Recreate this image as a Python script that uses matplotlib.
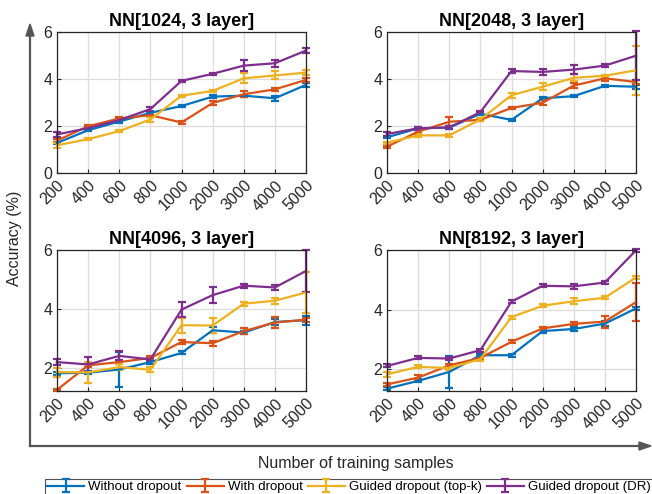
import numpy as np
import matplotlib
matplotlib.use("Agg")
import matplotlib.pyplot as plt
from matplotlib.lines import Line2D

plt.rcParams['font.family'] = ['Liberation Sans', 'DejaVu Sans']

# 数据
samples = ["200", "400", "600", "800", "1000", "2000", "3000", "4000", "5000"]
methods = ["Without dropout", "With dropout", "Guided dropout (top-k)", "Guided dropout (DR)"]
colors = ["#0072BD", "#D95319", "#EDB120", "#7E2F8E"]
titles = ["NN[1024, 3 layer]", "NN[2048, 3 layer]", "NN[4096, 3 layer]", "NN[8192, 3 layer]"]
ylims = [(0, 6), (0, 6), (1.22, 6), (1.27, 6)]

# NN[1024]
acc_1024 = [
    [1.28, 1.82, 2.19, 2.56, 2.85, 3.25, 3.29, 3.18, 3.75],
    [1.38, 1.99, 2.32, 2.46, 2.15, 2.98, 3.35, 3.56, 3.96],
    [1.18, 1.44, 1.78, 2.28, 3.29, 3.49, 4.03, 4.15, 4.27],
    [1.64, 1.91, 2.25, 2.72, 3.92, 4.22, 4.57, 4.67, 5.21],
]
err_1024 = [
    [0.05, 0.05, 0.05, 0.05, 0.05, 0.05, 0.05, 0.10, 0.10],
    [0.05, 0.05, 0.08, 0.05, 0.05, 0.10, 0.12, 0.05, 0.07],
    [0.10, 0.05, 0.05, 0.10, 0.05, 0.05, 0.22, 0.17, 0.10],
    [0.10, 0.05, 0.05, 0.10, 0.05, 0.05, 0.23, 0.15, 0.10],
]
# NN[2048]
acc_2048 = [
    [1.52, 1.90, 1.93, 2.52, 2.26, 3.18, 3.27, 3.71, 3.67],
    [1.12, 1.76, 2.18, 2.26, 2.77, 2.99, 3.72, 4.03, 3.87],
    [1.29, 1.60, 1.60, 2.28, 3.31, 3.67, 4.05, 4.14, 4.37],
    [1.66, 1.90, 1.94, 2.59, 4.34, 4.30, 4.40, 4.57, 4.99],
]
err_2048 = [
    [0.05, 0.05, 0.05, 0.05, 0.05, 0.05, 0.05, 0.05, 0.08],
    [0.05, 0.05, 0.20, 0.05, 0.05, 0.10, 0.10, 0.10, 0.08],
    [0.05, 0.05, 0.05, 0.05, 0.10, 0.15, 0.15, 0.05, 1.05],
    [0.10, 0.05, 0.05, 0.05, 0.10, 0.12, 0.20, 0.05, 1.04],
]
# NN[4096]
acc_4096 = [
    [1.82, 1.84, 1.95, 2.20, 2.51, 3.28, 3.20, 3.56, 3.62],
    [1.26, 2.09, 2.20, 2.34, 2.88, 2.84, 3.25, 3.54, 3.64],
    [1.86, 1.85, 2.03, 1.94, 3.45, 3.44, 4.18, 4.28, 4.56],
    [2.20, 2.12, 2.41, 2.29, 3.98, 4.47, 4.79, 4.73, 5.29],
]
err_4096 = [
    [0.05, 0.05, 0.60, 0.05, 0.05, 0.10, 0.05, 0.10, 0.15],
    [0.03, 0.05, 0.05, 0.05, 0.07, 0.08, 0.10, 0.20, 0.07],
    [0.15, 0.35, 0.10, 0.08, 0.25, 0.25, 0.07, 0.10, 0.70],
    [0.10, 0.25, 0.15, 0.05, 0.25, 0.27, 0.07, 0.10, 0.70],
]
# NN[8192]
acc_8192 = [
    [1.35, 1.61, 1.91, 2.47, 2.47, 3.28, 3.35, 3.53, 4.04],
    [1.49, 1.72, 2.13, 2.38, 2.92, 3.37, 3.52, 3.60, 4.25],
    [1.83, 2.08, 2.04, 2.34, 3.75, 4.13, 4.28, 4.40, 5.08],
    [2.11, 2.38, 2.36, 2.64, 4.27, 4.80, 4.78, 4.91, 5.99],
]
err_8192 = [
    [0.05, 0.05, 0.55, 0.05, 0.05, 0.05, 0.08, 0.08, 0.05],
    [0.05, 0.08, 0.05, 0.05, 0.05, 0.05, 0.05, 0.20, 0.63],
    [0.08, 0.05, 0.05, 0.05, 0.05, 0.05, 0.10, 0.05, 0.05],
    [0.05, 0.05, 0.05, 0.05, 0.05, 0.05, 0.08, 0.05, 0.05],
]
all_acc = [acc_1024, acc_2048, acc_4096, acc_8192]
all_err = [err_1024, err_2048, err_4096, err_8192]

fig = plt.figure(figsize=(6.52, 4.94), dpi=100)
W, H = 652, 494
# 子图位置 (像素)
boxes = [(57, 32), (387, 32), (57, 250), (387, 250)]
aw, ah = 249, 141

x = np.arange(len(samples))
handles = []
for k in range(4):
    l, t = boxes[k]
    ax = fig.add_axes([l / W, 1 - (t + ah) / H, aw / W, ah / H])
    for m in range(4):
        h = ax.errorbar(x, all_acc[k][m], yerr=all_err[k][m], color=colors[m],
                        lw=1.6, elinewidth=1.6, capsize=3.2, capthick=1.6, clip_on=False)
        if k == 0:
            handles.append(h)
    ax.set_xlim(0, len(samples) - 1)
    ax.set_ylim(*ylims[k])
    ax.set_yticks([0, 2, 4, 6] if k < 2 else [2, 4, 6])
    ax.set_xticks(x)
    ax.set_xticklabels(samples, rotation=45, ha='right', rotation_mode='anchor')
    ax.tick_params(direction='in', labelsize=11.5, colors='#262626', length=3)
    ax.grid(True, color='#dcdcdc', lw=0.9)
    ax.set_axisbelow(True)
    for s in ax.spines.values():
        s.set_color('#262626')
        s.set_linewidth(0.9)
    ax.set_title(titles[k], fontsize=13, fontweight='bold', pad=4)

# 外框箭头
ax_c = '#555555'
fig.add_artist(Line2D([30 / W, 30 / W], [1 - 446 / H, 1 - 30 / H], color=ax_c, lw=1.6))
fig.add_artist(Line2D([30 / W, 646 / W], [1 - 446 / H, 1 - 446 / H], color=ax_c, lw=1.6))
fig.patches.append(plt.Polygon([[30 / W, 1 - 24 / H], [26 / W, 1 - 36 / H], [34 / W, 1 - 36 / H]],
                               closed=True, color=ax_c, transform=fig.transFigure))
fig.patches.append(plt.Polygon([[651 / W, 1 - 446 / H], [639 / W, 1 - 442 / H], [639 / W, 1 - 450 / H]],
                               closed=True, color=ax_c, transform=fig.transFigure))

fig.text(15 / W, 1 - 238 / H, "Accuracy (%)", rotation=90, ha='center', va='center',
         fontsize=11.5, color='#262626')
fig.text(356 / W, 1 - 463 / H, "Number of training samples", ha='center', va='center',
         fontsize=11.5, color='#262626')

leg = fig.legend(handles, methods, loc='upper center', bbox_to_anchor=(349 / W, 1 - 479 / H),
                 ncol=4, fontsize=9.5, frameon=True, fancybox=False, edgecolor='#262626',
                 handlelength=2.8, handletextpad=0.3, columnspacing=0.4, borderpad=0.15,
                 borderaxespad=0)
leg.get_frame().set_linewidth(0.8)

fig.savefig("out.png", dpi=100)
